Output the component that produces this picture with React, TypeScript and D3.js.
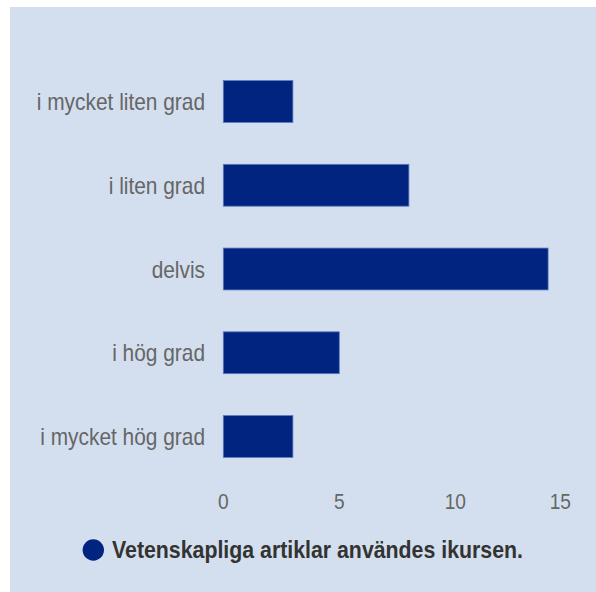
import * as React from 'react';
import * as d3 from 'd3';

const categories = ['i mycket liten grad', 'i liten grad', 'delvis', 'i hög grad', 'i mycket hög grad'];
const values = [3, 8, 14, 5, 3];
const xTicks = [0, 5, 10, 15];
const seriesName = 'Vetenskapliga artiklar användes ikursen.';

const W = 596;
const H = 592;
const SQ = 0.87; // text in the reference is a bit narrow

export default function App() {
    const x = d3.scaleLinear().domain([0, 15]).range([223.3, 571.3]);
    const y = d3.scaleBand<string>().domain(categories).range([38.7, 499.3]).padding(0.5);
    const font = 'Liberation Sans, Arial, sans-serif';
    const tickRight = 571; // last tick label is kept inside the plot

    return (
        <svg width={W} height={H} style={{ position: 'absolute', left: 0, top: 0 }}>
            <rect x={0} y={0} width={W} height={H} fill="#ffffff" />
            <rect x={10} y={7} width={W - 10} height={H - 7} fill="#d3dfee" />
            {categories.map((c, i) => (
                <g key={c}>
                    <rect
                        x={x(0)}
                        y={y(c)}
                        width={x(values[i]) - x(0)}
                        height={y.bandwidth()}
                        fill="#00247f"
                        stroke="#5f7cc0"
                        strokeWidth={0.8}
                    />
                    <g transform={`translate(205,${(y(c) as number) + y.bandwidth() / 2 + 8.6}) scale(${SQ},1)`}>
                        <text textAnchor="end" fontFamily={font} fontSize={24} fill="#666666">{c}</text>
                    </g>
                </g>
            ))}
            {xTicks.map((t, i) => {
                const last = i === xTicks.length - 1;
                const tx = last ? tickRight : x(t);
                return (
                    <g key={t} transform={`translate(${tx},509.3) scale(${SQ},1)`}>
                        <text textAnchor={last ? 'end' : 'middle'} fontFamily={font} fontSize={22} fill="#666666">{t}</text>
                    </g>
                );
            })}
            <circle cx={93.3} cy={550} r={10.7} fill="#00247f" />
            <g transform={`translate(112,558.3) scale(${SQ},1)`}>
                <text fontFamily={font} fontSize={24.5} fontWeight="bold" fill="#333333">{seriesName}</text>
            </g>
        </svg>
    );
}
